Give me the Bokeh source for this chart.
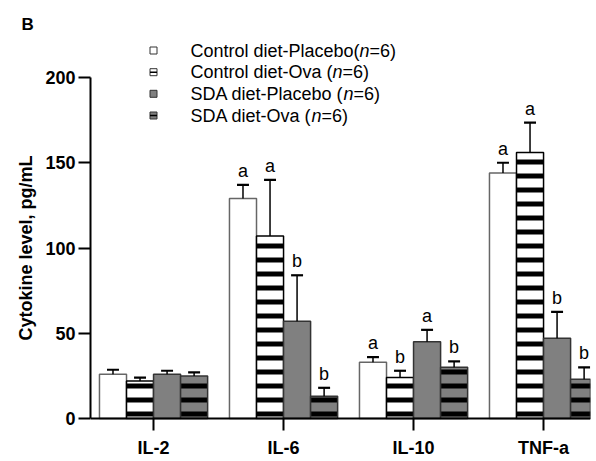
from bokeh.plotting import figure
from bokeh.models import Range1d, FixedTicker, Label, ColumnDataSource
from bokeh.core.properties import value
from bokeh.embed import file_html
from bokeh.resources import INLINE

# ---- data -------------------------------------------------------------
cytokines = ["IL-2", "IL-6", "IL-10", "TNF-a"]
groups = ["Control diet-Placebo", "Control diet-Ova", "SDA diet-Placebo", "SDA diet-Ova"]
group_sep = ["(", " (", " (", " ("]
group_n = [6, 6, 6, 6]

control_placebo = [26, 129, 33, 144]
control_placebo_sem = [2.6, 8, 3, 6]
control_ova = [22, 107, 24, 156]
control_ova_sem = [2, 33, 4, 17.5]
sda_placebo = [26, 57, 45, 47]
sda_placebo_sem = [2, 27, 7, 15.5]
sda_ova = [25, 13, 30, 23]
sda_ova_sem = [2, 5, 3.5, 7]

letters_control_placebo = ["", "a", "a", "a"]
letters_control_ova = ["", "a", "b", "a"]
letters_sda_placebo = ["", "b", "a", "b"]
letters_sda_ova = ["", "b", "b", "b"]

y_ticks = [0, 50, 100, 150, 200]

# ---- layout -----------------------------------------------------------
W, H = 596, 461
FRAME_LEFT, FRAME_RIGHT, FRAME_TOP = 90, 590, 34
ZERO_PX = 418                  # pixel row of y = 0
PX_PER_UNIT_Y = 1.705          # pixels per pg/mL
PX_PER_GROUP = 130             # pixels between cytokine groups
X_START = -0.485
BAR_W = 0.208
FONT = "Liberation Sans"
GREY = "#808080"

ARIAL = {" ": 278, "(": 333, ")": 333, "=": 584, "6": 556, "-": 333,
         "C": 722, "o": 556, "n": 556, "t": 278, "r": 333, "l": 222,
         "d": 556, "i": 222, "e": 556, "P": 667, "a": 556, "c": 500,
         "b": 556, "O": 778, "v": 500, "S": 667, "D": 722, "A": 667}


def text_width(s, size):
    return sum(ARIAL[ch] for ch in s) * size / 1000.0


def data_x(px):
    return X_START + (px - FRAME_LEFT) / PX_PER_GROUP


def data_y(py):
    return (ZERO_PX - py) / PX_PER_UNIT_Y


p = figure(width=W, height=H, output_backend="svg", toolbar_location=None,
           x_range=Range1d(X_START, data_x(FRAME_RIGHT)),
           y_range=Range1d(data_y(H), data_y(FRAME_TOP)),
           min_border_left=FRAME_LEFT, min_border_right=W - FRAME_RIGHT,
           min_border_top=FRAME_TOP, min_border_bottom=0)
p.outline_line_color = None
p.xgrid.visible = False
p.ygrid.visible = False
p.background_fill_color = "white"
p.border_fill_color = "white"

# panel letter
p.title.text = "B"
p.title.align = "left"
p.title.offset = 21 - FRAME_LEFT
p.title.standoff = 0
p.title.vertical_align = "middle"
p.title.text_font = FONT
p.title.text_font_size = "17px"
p.title.text_font_style = "bold"
p.title.text_color = "black"

series = [
    (control_placebo, control_placebo_sem, letters_control_placebo,
     dict(fill_color="white", line_color="#666666")),
    (control_ova, control_ova_sem, letters_control_ova,
     dict(fill_color="white", line_color="black", hatch_pattern="horizontal_line",
          hatch_color="black", hatch_scale=14, hatch_weight=5)),
    (sda_placebo, sda_placebo_sem, letters_sda_placebo,
     dict(fill_color=GREY, line_color="#333333")),
    (sda_ova, sda_ova_sem, letters_sda_ova,
     dict(fill_color=GREY, line_color="#333333", hatch_pattern="horizontal_line",
          hatch_color="black", hatch_scale=14, hatch_weight=5)),
]

cap = 0.046
for i, (vals, sems, letters, style) in enumerate(series):
    xs = [k + (i - 1.5) * BAR_W for k in range(len(cytokines))]
    tops = [v + s for v, s in zip(vals, sems)]
    src = ColumnDataSource(dict(x=xs, top=vals, err=tops, lab=letters,
                                x0=[x - cap for x in xs], x1=[x + cap for x in xs]))
    p.vbar(x="x", top="top", bottom=0, width=BAR_W, line_width=1.5, source=src, **style)
    p.segment(x0="x", y0="top", x1="x", y1="err", line_color="black", line_width=1.5, source=src)
    p.segment(x0="x0", y0="err", x1="x1", y1="err", line_color="black", line_width=2.2, source=src)
    p.text(x="x", y="err", text="lab", text_align="center", text_baseline="bottom",
           y_offset=-4, text_font=value(FONT), text_font_size="18px", text_color="black",
           source=src)

# ---- axes -------------------------------------------------------------
yax = p.yaxis[0]
yax.bounds = (0, 200)
yax.ticker = FixedTicker(ticks=y_ticks)
yax.axis_label = "Cytokine level, pg/mL"
yax.axis_label_text_font = FONT
yax.axis_label_text_font_style = "bold"
yax.axis_label_text_font_size = "18px"
yax.axis_label_text_color = "black"
yax.axis_label_standoff = 6
yax.major_label_text_font = FONT
yax.major_label_text_font_style = "bold"
yax.major_label_text_font_size = "18px"
yax.major_label_text_color = "black"
yax.major_label_standoff = 3
yax.major_tick_out = 12
yax.major_tick_in = 0
yax.minor_tick_out = 0
yax.minor_tick_in = 0
yax.axis_line_width = 2
yax.axis_line_color = "black"
yax.major_tick_line_width = 2
yax.major_tick_line_color = "black"

xax = p.xaxis[0]
xax.fixed_location = 0
xax.ticker = FixedTicker(ticks=list(range(len(cytokines))))
xax.major_label_overrides = {k: name for k, name in enumerate(cytokines)}
xax.major_label_text_font = FONT
xax.major_label_text_font_style = "bold"
xax.major_label_text_font_size = "18px"
xax.major_label_text_color = "black"
xax.major_label_standoff = 7
xax.major_tick_out = 12
xax.major_tick_in = 0
xax.minor_tick_out = 0
xax.minor_tick_in = 0
xax.axis_line_width = 2
xax.axis_line_color = "black"
xax.major_tick_line_width = 2
xax.major_tick_line_color = "black"

# ---- legend -----------------------------------------------------------
legend_rows = [50, 71.7, 93.3, 115]
mark_px, text_px = 153, 190
mx = [data_x(mark_px)] * 4
my = [data_y(r) for r in legend_rows]
fills = ["white", "white", GREY, GREY]
p.rect(x=mx, y=my, width=7, height=7, width_units="screen", height_units="screen",
       fill_color=fills, line_color="#333333", line_width=1)
p.rect(x=[mx[1], mx[3]], y=[my[1], my[3]], width=7, height=1.5,
       width_units="screen", height_units="screen", fill_color="black", line_color=None)

LEG_SIZE = 18
for name, sep, n, row in zip(groups, group_sep, group_n, legend_rows):
    pieces = [(name + sep, "normal"), ("n", "italic"), ("=%d)" % n, "normal")]
    x = text_px - FRAME_LEFT
    for txt, style in pieces:
        p.add_layout(Label(x=x, y=H - row, x_units="screen", y_units="screen",
                           text=txt, text_font=FONT, text_font_size="%dpx" % LEG_SIZE,
                           text_font_style=style, text_baseline="middle", text_color="black"))
        x += text_width(txt, LEG_SIZE)

open("out.html", "w").write(file_html(p, INLINE))
